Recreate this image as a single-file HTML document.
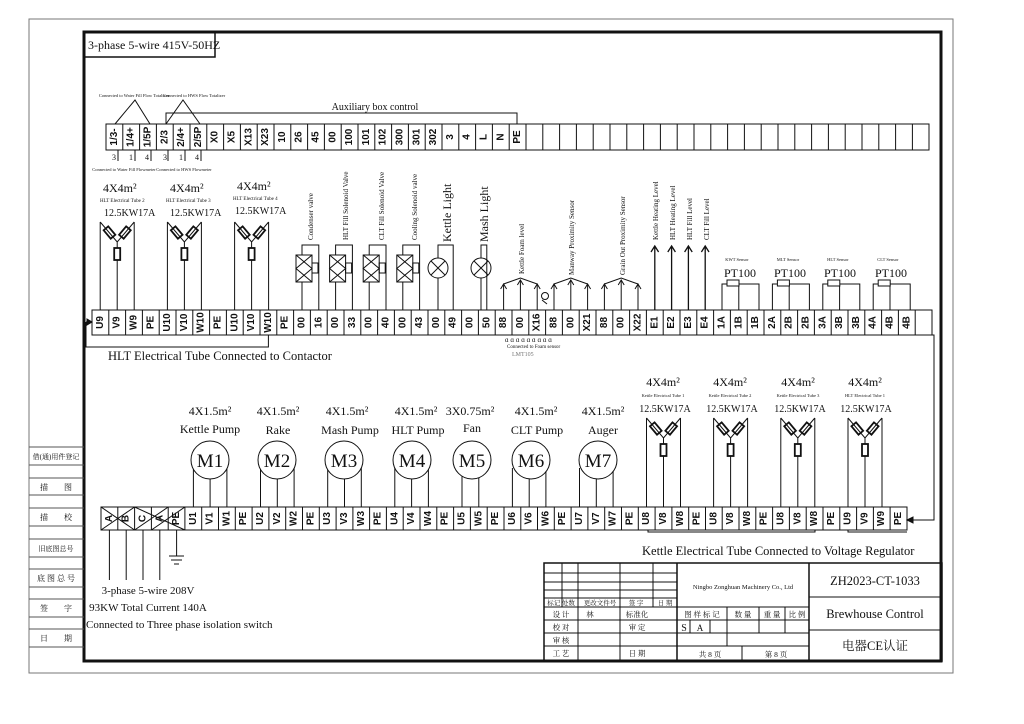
<!DOCTYPE html>
<html><head><meta charset="utf-8"><style>
html,body{margin:0;padding:0;background:#fff}
svg{display:block}
text{font-family:"Liberation Serif","Noto Serif CJK SC",serif;fill:#111}
.c{font-family:"Liberation Sans","Noto Sans CJK SC",sans-serif;font-size:10px;text-anchor:middle;dominant-baseline:central;font-weight:bold}
.s{font-size:4.5px;text-anchor:middle}
.v{font-size:7px}
.m{text-anchor:middle}
</style></head><body>
<svg width="1024" height="724" viewBox="0 0 1024 724" xmlns="http://www.w3.org/2000/svg" fill="none" stroke="#111" stroke-width="1">
<rect x="29" y="19" width="924" height="654" stroke="#777"/>
<rect x="84" y="32" width="857" height="629" stroke-width="3"/>
<rect x="84" y="32" width="131" height="25" stroke-width="1.5"/>
<text x="88" y="49" style="font-size:12px" stroke="none">3-phase 5-wire 415V-50HZ</text>

<path d="M29 447H84M29 465H84M29 478H84M29 495H84M29 508H84M29 526H84M29 539H84M29 557H84M29 569H84M29 587H84M29 599H84M29 617H84M29 629H84M29 647H84" stroke="#555"/>
<g stroke="none" font-size="8" text-anchor="middle">
<text x="56" y="459" font-size="7">借(通)用件登记</text>
<text x="56" y="490">描　　图</text>
<text x="56" y="520">描　　校</text>
<text x="56" y="551" font-size="7">旧底图总号</text>
<text x="56" y="581">底 图 总 号</text>
<text x="56" y="611">签　　字</text>
<text x="56" y="641">日　　期</text>
</g>

<rect x="106" y="124" width="823" height="26"/>
<path d="M122.8 124V150M139.6 124V150M156.4 124V150M173.2 124V150M190 124V150M206.8 124V150M223.6 124V150M240.4 124V150M257.2 124V150M274 124V150M290.8 124V150M307.6 124V150M324.4 124V150M341.2 124V150M358 124V150M374.8 124V150M391.6 124V150M408.4 124V150M425.2 124V150M442 124V150M458.8 124V150M475.6 124V150M492.4 124V150M509.2 124V150M526 124V150M542.8 124V150M559.6 124V150M576.4 124V150M593.2 124V150M610 124V150M626.8 124V150M643.6 124V150M660.4 124V150M677.2 124V150M694 124V150M710.8 124V150M727.6 124V150M744.4 124V150M761.2 124V150M778 124V150M794.8 124V150M811.6 124V150M828.4 124V150M845.2 124V150M862 124V150M878.8 124V150M895.6 124V150M912.4 124V150"/>
<g stroke="none">
<text class="c" transform="translate(114.4 137)rotate(-90)">1/3-</text>
<text class="c" transform="translate(131.2 137)rotate(-90)">1/4+</text>
<text class="c" transform="translate(148 137)rotate(-90)">1/5P</text>
<text class="c" transform="translate(164.8 137)rotate(-90)">2/3</text>
<text class="c" transform="translate(181.6 137)rotate(-90)">2/4+</text>
<text class="c" transform="translate(198.4 137)rotate(-90)">2/5P</text>
<text class="c" transform="translate(215.2 137)rotate(-90)">X0</text>
<text class="c" transform="translate(232 137)rotate(-90)">X5</text>
<text class="c" transform="translate(248.8 137)rotate(-90)">X13</text>
<text class="c" transform="translate(265.6 137)rotate(-90)">X23</text>
<text class="c" transform="translate(282.4 137)rotate(-90)">10</text>
<text class="c" transform="translate(299.2 137)rotate(-90)">26</text>
<text class="c" transform="translate(316 137)rotate(-90)">45</text>
<text class="c" transform="translate(332.8 137)rotate(-90)">00</text>
<text class="c" transform="translate(349.6 137)rotate(-90)">100</text>
<text class="c" transform="translate(366.4 137)rotate(-90)">101</text>
<text class="c" transform="translate(383.2 137)rotate(-90)">102</text>
<text class="c" transform="translate(400 137)rotate(-90)">300</text>
<text class="c" transform="translate(416.8 137)rotate(-90)">301</text>
<text class="c" transform="translate(433.6 137)rotate(-90)">302</text>
<text class="c" transform="translate(450.4 137)rotate(-90)">3</text>
<text class="c" transform="translate(467.2 137)rotate(-90)">4</text>
<text class="c" transform="translate(484 137)rotate(-90)">L</text>
<text class="c" transform="translate(500.8 137)rotate(-90)">N</text>
<text class="c" transform="translate(517.6 137)rotate(-90)">PE</text>
</g>
<path d="M115 124L135 100L150 124M166 124L183 100L200 124M166 124V113H517V124"/>
<text x="375" y="110" stroke="none" style="font-size:10px" text-anchor="middle">Auxiliary box control</text>
<g stroke="none" class="s"><text x="134" y="97">Connected to Water Fill Flow Totalizer</text><text x="194" y="97">Connected to HWS Flow Totalizer</text>
<text x="124" y="171">Connected to Water Fill Flowmeter</text><text x="184" y="171">Connected to HWS Flowmeter</text></g>
<path d="M118 150V161M135 150V161M151 150V161M168 150V161M185 150V161M201 150V161"/>
<g stroke="none" font-size="8" text-anchor="middle"><text x="114" y="160">3</text><text x="131" y="160">1</text><text x="147" y="160">4</text><text x="165" y="160">3</text><text x="181" y="160">1</text><text x="197" y="160">4</text></g>

<rect x="92" y="310" width="840" height="25"/>
<path d="M108.8 310V335M125.6 310V335M142.4 310V335M159.2 310V335M176 310V335M192.8 310V335M209.6 310V335M226.4 310V335M243.2 310V335M260 310V335M276.8 310V335M293.6 310V335M310.4 310V335M327.2 310V335M344 310V335M360.8 310V335M377.6 310V335M394.4 310V335M411.2 310V335M428 310V335M444.8 310V335M461.6 310V335M478.4 310V335M495.2 310V335M512 310V335M528.8 310V335M545.6 310V335M562.4 310V335M579.2 310V335M596 310V335M612.8 310V335M629.6 310V335M646.4 310V335M663.2 310V335M680 310V335M696.8 310V335M713.6 310V335M730.4 310V335M747.2 310V335M764 310V335M780.8 310V335M797.6 310V335M814.4 310V335M831.2 310V335M848 310V335M864.8 310V335M881.6 310V335M898.4 310V335M915.2 310V335"/>
<g stroke="none">
<text class="c" transform="translate(100.4 322.5)rotate(-90)">U9</text>
<text class="c" transform="translate(117.2 322.5)rotate(-90)">V9</text>
<text class="c" transform="translate(134 322.5)rotate(-90)">W9</text>
<text class="c" transform="translate(150.8 322.5)rotate(-90)">PE</text>
<text class="c" transform="translate(167.6 322.5)rotate(-90)">U10</text>
<text class="c" transform="translate(184.4 322.5)rotate(-90)">V10</text>
<text class="c" transform="translate(201.2 322.5)rotate(-90)">W10</text>
<text class="c" transform="translate(218 322.5)rotate(-90)">PE</text>
<text class="c" transform="translate(234.8 322.5)rotate(-90)">U10</text>
<text class="c" transform="translate(251.6 322.5)rotate(-90)">V10</text>
<text class="c" transform="translate(268.4 322.5)rotate(-90)">W10</text>
<text class="c" transform="translate(285.2 322.5)rotate(-90)">PE</text>
<text class="c" transform="translate(302 322.5)rotate(-90)">00</text>
<text class="c" transform="translate(318.8 322.5)rotate(-90)">16</text>
<text class="c" transform="translate(335.6 322.5)rotate(-90)">00</text>
<text class="c" transform="translate(352.4 322.5)rotate(-90)">33</text>
<text class="c" transform="translate(369.2 322.5)rotate(-90)">00</text>
<text class="c" transform="translate(386 322.5)rotate(-90)">40</text>
<text class="c" transform="translate(402.8 322.5)rotate(-90)">00</text>
<text class="c" transform="translate(419.6 322.5)rotate(-90)">43</text>
<text class="c" transform="translate(436.4 322.5)rotate(-90)">00</text>
<text class="c" transform="translate(453.2 322.5)rotate(-90)">49</text>
<text class="c" transform="translate(470 322.5)rotate(-90)">00</text>
<text class="c" transform="translate(486.8 322.5)rotate(-90)">50</text>
<text class="c" transform="translate(503.6 322.5)rotate(-90)">88</text>
<text class="c" transform="translate(520.4 322.5)rotate(-90)">00</text>
<text class="c" transform="translate(537.2 322.5)rotate(-90)">X16</text>
<text class="c" transform="translate(554 322.5)rotate(-90)">88</text>
<text class="c" transform="translate(570.8 322.5)rotate(-90)">00</text>
<text class="c" transform="translate(587.6 322.5)rotate(-90)">X21</text>
<text class="c" transform="translate(604.4 322.5)rotate(-90)">88</text>
<text class="c" transform="translate(621.2 322.5)rotate(-90)">00</text>
<text class="c" transform="translate(638 322.5)rotate(-90)">X22</text>
<text class="c" transform="translate(654.8 322.5)rotate(-90)">E1</text>
<text class="c" transform="translate(671.6 322.5)rotate(-90)">E2</text>
<text class="c" transform="translate(688.4 322.5)rotate(-90)">E3</text>
<text class="c" transform="translate(705.2 322.5)rotate(-90)">E4</text>
<text class="c" transform="translate(722 322.5)rotate(-90)">1A</text>
<text class="c" transform="translate(738.8 322.5)rotate(-90)">1B</text>
<text class="c" transform="translate(755.6 322.5)rotate(-90)">1B</text>
<text class="c" transform="translate(772.4 322.5)rotate(-90)">2A</text>
<text class="c" transform="translate(789.2 322.5)rotate(-90)">2B</text>
<text class="c" transform="translate(806 322.5)rotate(-90)">2B</text>
<text class="c" transform="translate(822.8 322.5)rotate(-90)">3A</text>
<text class="c" transform="translate(839.6 322.5)rotate(-90)">3B</text>
<text class="c" transform="translate(856.4 322.5)rotate(-90)">3B</text>
<text class="c" transform="translate(873.2 322.5)rotate(-90)">4A</text>
<text class="c" transform="translate(890 322.5)rotate(-90)">4B</text>
<text class="c" transform="translate(906.8 322.5)rotate(-90)">4B</text>
</g>
<path d="M86 322H92M268.4 335V347H86V322"/>
<path d="M92 322l-5 -3v6z" fill="#111"/>
<text x="108" y="360" stroke="none" style="font-size:12.5px">HLT Electrical Tube Connected to Contactor</text>

<defs>
<g id="ht">
<path d="M-17 0V88M17 0V88M0 20V88M-17 0L0 20L17 0"/>
<rect x="-3" y="-3.5" width="6" height="11" transform="translate(-9 9)rotate(-40)" stroke-width="1.8"/>
<rect x="-3" y="-3.5" width="6" height="11" transform="translate(9 9)rotate(40)" stroke-width="1.8"/>
<rect x="-3" y="26" width="6" height="12" fill="#fff" stroke-width="1.8"/>
</g>
<g id="ht2">
<path d="M-17 0V89M17 0V89M0 20V89M-17 0L0 20L17 0"/>
<rect x="-3" y="-3.5" width="6" height="11" transform="translate(-9 9)rotate(-40)" stroke-width="1.8"/>
<rect x="-3" y="-3.5" width="6" height="11" transform="translate(9 9)rotate(40)" stroke-width="1.8"/>
<rect x="-3" y="26" width="6" height="12" fill="#fff" stroke-width="1.8"/>
</g>
</defs>
<use href="#ht" x="117.2" y="222"/>
<use href="#ht" x="184.4" y="222"/>
<use href="#ht" x="251.6" y="222"/>
<g stroke="none">
<text x="103" y="192" style="font-size:12px">4X4m²</text>
<text x="170" y="192" style="font-size:12px">4X4m²</text>
<text x="237" y="190" style="font-size:12px">4X4m²</text>
<text x="100" y="202" font-size="5">HLT Electrical Tube 2</text>
<text x="166" y="202" font-size="5">HLT Electrical Tube 3</text>
<text x="233" y="200" font-size="5">HLT Electrical Tube 4</text>
<text x="104" y="216" style="font-size:10px">12.5KW17A</text>
<text x="170" y="216" style="font-size:10px">12.5KW17A</text>
<text x="235" y="214" style="font-size:10px">12.5KW17A</text>
</g>

<path d="M302 282V310M302 255V245H318.8V310"/>
<rect x="296" y="255" width="16" height="27"/><path d="M296 255L312 268.5L296 282M312 255L296 268.5L312 282"/><rect x="312" y="263" width="6" height="10"/>
<path d="M335.6 282V310M335.6 255V245H352.4V310"/>
<rect x="329.6" y="255" width="16" height="27"/><path d="M329.6 255L345.6 268.5L329.6 282M345.6 255L329.6 268.5L345.6 282"/><rect x="345.6" y="263" width="6" height="10"/>
<path d="M369.2 282V310M369.2 255V245H386V310"/>
<rect x="363.2" y="255" width="16" height="27"/><path d="M363.2 255L379.2 268.5L363.2 282M379.2 255L363.2 268.5L379.2 282"/><rect x="379.2" y="263" width="6" height="10"/>
<path d="M402.8 282V310M402.8 255V245H419.6V310"/>
<rect x="396.8" y="255" width="16" height="27"/><path d="M396.8 255L412.8 268.5L396.8 282M412.8 255L396.8 268.5L412.8 282"/><rect x="412.8" y="263" width="6" height="10"/>
<path d="M438 278V310M438 258V245H453.2V310"/>
<circle cx="438" cy="268" r="10"/><path d="M431 261L445 275M445 261L431 275"/>
<path d="M481 278V310M481 258V245H486.8V310"/>
<circle cx="481" cy="268" r="10"/><path d="M474 261L488 275M488 261L474 275"/>
<g stroke="none" class="v">
<text transform="translate(313 240)rotate(-90)">Condenser valve</text>
<text transform="translate(348 240)rotate(-90)">HLT Fill Solenoid Valve</text>
<text transform="translate(384 240)rotate(-90)">CLT Fill Solenoid Valve</text>
<text transform="translate(417 240)rotate(-90)">Cooling Solenoid valve</text>
<text transform="translate(451 242)rotate(-90)" style="font-size:12px">Kettle Light</text>
<text transform="translate(488 242)rotate(-90)" style="font-size:12px">Mash Light</text>
<text transform="translate(524 274)rotate(-90)">Kettle Foam level</text>
<text transform="translate(574 275)rotate(-90)">Manway Proximity Sensor</text>
<text transform="translate(625 275)rotate(-90)">Grain Out Proximity Sensor</text>
<text transform="translate(658 240)rotate(-90)">Kettle Heating Level</text>
<text transform="translate(675 240)rotate(-90)">HLT Heating Level</text>
<text transform="translate(692 240)rotate(-90)">HLT Fill Level</text>
<text transform="translate(709 240)rotate(-90)">CLT Fill Level</text>
</g>
<path d="M503.6 310V284M520.4 310V280M537.2 310V284M503.6 284L520.4 278L537.2 284M554 310V284M570.8 310V280M587.6 310V284M554 284L570.8 278L587.6 284M604.4 310V284M621.2 310V280M638 310V284M604.4 284L621.2 278L638 284"/>
<path d="M500.6 289l3-5l3 5M517.4 285l3-5l3 5M534.2 289l3-5l3 5M551 289l3-5l3 5M567.8 285l3-5l3 5M584.6 289l3-5l3 5M601.4 289l3-5l3 5M618.2 285l3-5l3 5M635 289l3-5l3 5"/>
<circle cx="545" cy="296" r="3.5"/><path d="M542 300l5 4"/>
<path d="M654.8 310V246M671.6 310V246M688.4 310V246M705.2 310V246M651 252l3.8-6l3.8 6M667.8 252l3.8-6l3.8 6M684.6 252l3.8-6l3.8 6M701.4 252l3.8-6l3.8 6" stroke-width="1.3"/>
<g stroke="none" font-size="7" fill="#333"><text x="505" y="342">ɑ   ɑ   ɑ   ɑ   ɑ   ɑ   ɑ   ɑ   ɑ</text></g>
<text x="507" y="348" font-size="5" stroke="none">Connected to Foam sensor</text>
<text x="512" y="356" font-size="6" stroke="none" style="fill:#777">LMT105</text>
<g id="pt">
<path d="M722 310V284H738.8V310M738.8 284H759V310"/><rect x="727" y="280" width="12" height="6" fill="#fff"/>
</g>
<use href="#pt" x="50.4"/><use href="#pt" x="100.8"/><use href="#pt" x="151.2"/>
<g stroke="none">
<text x="737" y="261" class="s" font-size="6">KWT Sensor</text><text x="788" y="261" class="s" font-size="6">MLT Sensor</text><text x="838" y="261" class="s" font-size="6">HLT Sensor</text><text x="888" y="261" class="s" font-size="6">CLT Sensor</text>
<g style="font-family:'Liberation Sans',sans-serif" font-size="12" text-anchor="middle"><text x="740" y="277">PT100</text><text x="790" y="277">PT100</text><text x="840" y="277">PT100</text><text x="891" y="277">PT100</text></g>
</g>
<path d="M932 335H934V520H909"/><path d="M907 520l6 -3v6z" fill="#111"/>

<rect x="101" y="507" width="806" height="23"/>
<path d="M117.8 507V530M134.6 507V530M151.4 507V530M168.2 507V530M184.9 507V530M201.7 507V530M218.5 507V530M235.3 507V530M252.1 507V530M268.9 507V530M285.7 507V530M302.5 507V530M319.3 507V530M336.1 507V530M352.9 507V530M369.6 507V530M386.4 507V530M403.2 507V530M420 507V530M436.8 507V530M453.6 507V530M470.4 507V530M487.2 507V530M504 507V530M520.8 507V530M537.5 507V530M554.3 507V530M571.1 507V530M587.9 507V530M604.7 507V530M621.5 507V530M638.3 507V530M655.1 507V530M671.9 507V530M688.7 507V530M705.5 507V530M722.2 507V530M739 507V530M755.8 507V530M772.6 507V530M789.4 507V530M806.2 507V530M823 507V530M839.8 507V530M856.6 507V530M873.4 507V530M890.1 507V530"/>
<path d="M101 507L134.6 530M101 530L134.6 507M134.6 530L168.2 507M134.6 507L184.9 530M151.4 530L184.9 507"/>
<g stroke="none">
<text class="c" transform="translate(109.4 518.5)rotate(-90)">A</text>
<text class="c" transform="translate(126.2 518.5)rotate(-90)">B</text>
<text class="c" transform="translate(143 518.5)rotate(-90)">C</text>
<text class="c" transform="translate(159.8 518.5)rotate(-90)">A</text>
<text class="c" transform="translate(176.6 518.5)rotate(-90)">PE</text>
<text class="c" transform="translate(193.4 518.5)rotate(-90)">U1</text>
<text class="c" transform="translate(210.1 518.5)rotate(-90)">V1</text>
<text class="c" transform="translate(226.9 518.5)rotate(-90)">W1</text>
<text class="c" transform="translate(243.7 518.5)rotate(-90)">PE</text>
<text class="c" transform="translate(260.5 518.5)rotate(-90)">U2</text>
<text class="c" transform="translate(277.3 518.5)rotate(-90)">V2</text>
<text class="c" transform="translate(294.1 518.5)rotate(-90)">W2</text>
<text class="c" transform="translate(310.9 518.5)rotate(-90)">PE</text>
<text class="c" transform="translate(327.7 518.5)rotate(-90)">U3</text>
<text class="c" transform="translate(344.5 518.5)rotate(-90)">V3</text>
<text class="c" transform="translate(361.3 518.5)rotate(-90)">W3</text>
<text class="c" transform="translate(378 518.5)rotate(-90)">PE</text>
<text class="c" transform="translate(394.8 518.5)rotate(-90)">U4</text>
<text class="c" transform="translate(411.6 518.5)rotate(-90)">V4</text>
<text class="c" transform="translate(428.4 518.5)rotate(-90)">W4</text>
<text class="c" transform="translate(445.2 518.5)rotate(-90)">PE</text>
<text class="c" transform="translate(462 518.5)rotate(-90)">U5</text>
<text class="c" transform="translate(478.8 518.5)rotate(-90)">W5</text>
<text class="c" transform="translate(495.6 518.5)rotate(-90)">PE</text>
<text class="c" transform="translate(512.4 518.5)rotate(-90)">U6</text>
<text class="c" transform="translate(529.2 518.5)rotate(-90)">V6</text>
<text class="c" transform="translate(545.9 518.5)rotate(-90)">W6</text>
<text class="c" transform="translate(562.7 518.5)rotate(-90)">PE</text>
<text class="c" transform="translate(579.5 518.5)rotate(-90)">U7</text>
<text class="c" transform="translate(596.3 518.5)rotate(-90)">V7</text>
<text class="c" transform="translate(613.1 518.5)rotate(-90)">W7</text>
<text class="c" transform="translate(629.9 518.5)rotate(-90)">PE</text>
<text class="c" transform="translate(646.7 518.5)rotate(-90)">U8</text>
<text class="c" transform="translate(663.5 518.5)rotate(-90)">V8</text>
<text class="c" transform="translate(680.3 518.5)rotate(-90)">W8</text>
<text class="c" transform="translate(697.1 518.5)rotate(-90)">PE</text>
<text class="c" transform="translate(713.9 518.5)rotate(-90)">U8</text>
<text class="c" transform="translate(730.6 518.5)rotate(-90)">V8</text>
<text class="c" transform="translate(747.4 518.5)rotate(-90)">W8</text>
<text class="c" transform="translate(764.2 518.5)rotate(-90)">PE</text>
<text class="c" transform="translate(781 518.5)rotate(-90)">U8</text>
<text class="c" transform="translate(797.8 518.5)rotate(-90)">V8</text>
<text class="c" transform="translate(814.6 518.5)rotate(-90)">W8</text>
<text class="c" transform="translate(831.4 518.5)rotate(-90)">PE</text>
<text class="c" transform="translate(848.2 518.5)rotate(-90)">U9</text>
<text class="c" transform="translate(865 518.5)rotate(-90)">V9</text>
<text class="c" transform="translate(881.7 518.5)rotate(-90)">W9</text>
<text class="c" transform="translate(898.5 518.5)rotate(-90)">PE</text>
</g>
<path d="M109.4 530V580M126.2 530V580M143 530V580M159.8 530V580M176.6 530V556M169 556H184M171 560H182M174 564H179"/>
<g stroke="none" style="font-size:11px" text-anchor="middle">
<text x="148" y="594">3-phase 5-wire 208V</text>
<text x="148" y="611">93KW Total Current 140A</text>
<text x="86" y="628" text-anchor="start">Connected to Three phase isolation switch</text>
</g>
<path d="M193.4 468V507M210.1 470V507M226.9 468V507M260.5 468V507M277.3 470V507M294.1 468V507M327.7 468V507M344.5 470V507M361.3 468V507M394.8 468V507M411.6 470V507M428.4 468V507M462 470V507M478.8 470V507M512.4 468V507M529.2 470V507M545.9 468V507M579.5 468V507M596.3 470V507M613.1 468V507"/>
<g fill="#fff">
<circle cx="210" cy="460" r="19"/><circle cx="277" cy="460" r="19"/><circle cx="344" cy="460" r="19"/><circle cx="412" cy="460" r="19"/><circle cx="472" cy="460" r="19"/><circle cx="531" cy="460" r="19"/><circle cx="598" cy="460" r="19"/>
</g>
<g stroke="none" text-anchor="middle" font-size="19">
<text x="210" y="467">M1</text><text x="277" y="467">M2</text><text x="344" y="467">M3</text><text x="412" y="467">M4</text><text x="472" y="467">M5</text><text x="531" y="467">M6</text><text x="598" y="467">M7</text>
</g>
<g stroke="none" text-anchor="middle" font-size="12">
<text x="210" y="415">4X1.5m²</text><text x="278" y="415">4X1.5m²</text><text x="347" y="415">4X1.5m²</text><text x="416" y="415">4X1.5m²</text><text x="470" y="415">3X0.75m²</text><text x="536" y="415">4X1.5m²</text><text x="603" y="415">4X1.5m²</text>
<text x="210" y="433">Kettle Pump</text><text x="278" y="434">Rake</text><text x="350" y="434">Mash Pump</text><text x="418" y="434">HLT Pump</text><text x="472" y="432">Fan</text><text x="537" y="434">CLT Pump</text><text x="603" y="434">Auger</text>
</g>
<use href="#ht2" x="663.5" y="418"/><use href="#ht2" x="730.6" y="418"/><use href="#ht2" x="797.8" y="418"/><use href="#ht2" x="865" y="418"/>
<g stroke="none">
<g text-anchor="middle" font-size="12"><text x="663" y="386">4X4m²</text><text x="730" y="386">4X4m²</text><text x="798" y="386">4X4m²</text><text x="865" y="386">4X4m²</text></g>
<g class="s"><text x="663" y="397">Kettle Electrical Tube 1</text><text x="730" y="397">Kettle Electrical Tube 2</text><text x="798" y="397">Kettle Electrical Tube 3</text><text x="865" y="397">HLT Electrical Tube 1</text></g>
<g text-anchor="middle" font-size="10"><text x="665" y="412">12.5KW17A</text><text x="732" y="412">12.5KW17A</text><text x="800" y="412">12.5KW17A</text><text x="866" y="412">12.5KW17A</text></g>
</g>
<path d="M648 530V532H815V530M848 530V532H907"/>
<text x="642" y="555" stroke="none" style="font-size:12.5px">Kettle Electrical Tube Connected to Voltage Regulator</text>

<rect x="544" y="563" width="398" height="98" stroke-width="1.5"/>
<path d="M677 563V661M809 563V661" stroke-width="1.5"/>
<path d="M544 573H677M544 582H677M544 590H677M544 598H677M544 607H809M544 620H809M544 633H677M544 646H809M677 633H809M809 597H942M809 630H942" />
<path d="M562 563V607M578 563V661M620 563V661M653 563V607M727 607V646M759 607V633M785 607V633M690 620V633M710 620V633M742 646V661"/>
<g stroke="none" font-size="7.5" text-anchor="middle">
<text x="561" y="605" font-size="6.5">标记 处数</text><text x="600" y="605" font-size="6.5">更改文件号</text><text x="636" y="605" font-size="6.5">签 字</text><text x="665" y="605" font-size="6.5">日 期</text>
<text x="561" y="617">设 计</text><text x="590" y="617">林</text><text x="637" y="617">标准化</text>
<text x="561" y="630">校 对</text><text x="637" y="630">审 定</text>
<text x="561" y="643">审 核</text>
<text x="561" y="656">工 艺</text><text x="637" y="656">日 期</text>
<text x="702" y="617">图 样 标 记</text><text x="743" y="617">数 量</text><text x="772" y="617">重 量</text><text x="797" y="617">比 例</text>
<text x="684" y="631" style="font-size:10px">S</text><text x="700" y="631" style="font-size:9px">A</text>
<text x="710" y="657">共  8  页</text><text x="776" y="657">第  8  页</text>
<text x="743" y="589" font-size="6.5">Ningbo Zonghuan Machinery Co., Ltd</text>
</g>
<g stroke="none" text-anchor="middle" font-size="12.5">
<text x="875" y="585">ZH2023-CT-1033</text>
<text x="875" y="618">Brewhouse Control</text>
<text x="875" y="650">电器CE认证</text>
</g>
</svg>
</body></html>
